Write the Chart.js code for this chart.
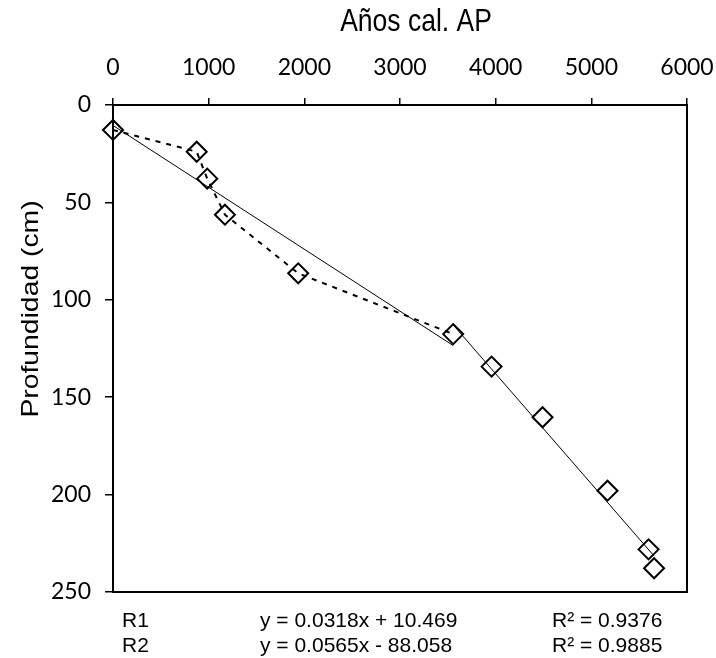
<!DOCTYPE html>
<html>
<head>
<meta charset="utf-8">
<script src="https://cdn.jsdelivr.net/npm/chart.js@4.4.1/dist/chart.umd.min.js"></script>
<style>
    html, body { margin: 0; padding: 0; background: #fff; }
    #wrap { width: 716px; height: 658px; position: relative; }
</style>
</head>
<body>
<div id="wrap"><canvas id="chart"></canvas></div>
<script>
// Edad calibrada (años cal. AP) y profundidad (cm) de cada muestra
const ages   = [0, 875, 985, 1170, 1936, 3556, 3957, 4490, 5169, 5598, 5656];
const depths = [12.8, 24, 37.8, 56.3, 86.4, 117.6, 134.3, 160.3, 198, 228.1, 237.8];

// tramo superior unido con línea punteada (primeras 6 muestras)
const upperCount = 6;

// extremos de las rectas de regresión
const r1Ages   = [0, 3556];
const r1Depths = [10.5, 123.5];
const r2Ages   = [3556, 5656];
const r2Depths = [112.9, 231.5];

// ejes
const xTicks = [0, 1000, 2000, 3000, 4000, 5000, 6000];
const yTicks = [0, 50, 100, 150, 200, 250];
const xTitle = 'Años cal. AP';
const yTitle = 'Profundidad (cm)';

// texto de las regresiones bajo el gráfico
const regNames     = ['R1', 'R2'];
const regEquations = ['y = 0.0318x + 10.469', 'y = 0.0565x - 88.058'];
const regR2        = ['R² = 0.9376', 'R² = 0.9885'];

const toPoints = (xs, ys) => xs.map((x, i) => ({ x: x, y: ys[i] }));

const tickFont = { family: 'Lato', size: 23 };
const textFont = '"Liberation Sans", Arial, sans-serif';

// marco del área de trazado + títulos y ecuaciones
const framePlugin = {
    id: 'frame',
    afterDraw(chart) {
        const { ctx, chartArea: a } = chart;
        ctx.save();
        ctx.strokeStyle = '#000';
        ctx.lineWidth = 2;
        ctx.strokeRect(a.left, a.top, a.right - a.left, a.bottom - a.top);

        ctx.fillStyle = '#000';
        // título eje x
        ctx.save();
        ctx.translate(416, 31);
        ctx.scale(1, 1.15);
        ctx.font = '26.5px ' + textFont;
        ctx.textAlign = 'center';
        ctx.textBaseline = 'alphabetic';
        ctx.fillText(xTitle, 0, 0);
        ctx.restore();

        // título eje y
        ctx.save();
        ctx.translate(37.5, 309);
        ctx.rotate(-Math.PI / 2);
        ctx.scale(1.18, 1);
        ctx.font = '24px ' + textFont;
        ctx.textAlign = 'center';
        ctx.textBaseline = 'alphabetic';
        ctx.fillText(yTitle, 0, 0);
        ctx.restore();

        // ecuaciones
        ctx.font = '21px ' + textFont;
        ctx.textAlign = 'left';
        ctx.textBaseline = 'alphabetic';
        const rows = [627, 652];
        regNames.forEach((name, i) => {
            ctx.fillText(name, 122, rows[i]);
            ctx.fillText(regEquations[i], 260, rows[i]);
            ctx.fillText(regR2[i], 552, rows[i]);
        });
        ctx.restore();
    }
};

const ctx = document.getElementById('chart').getContext('2d');
new Chart(ctx, {
    type: 'scatter',
    data: {
        datasets: [
            {
                data: toPoints(ages.slice(0, upperCount), depths.slice(0, upperCount)),
                showLine: true,
                borderColor: '#000',
                borderWidth: 2,
                borderDash: [5, 6],
                pointRadius: 0,
                clip: false
            },
            {
                data: toPoints(r1Ages, r1Depths),
                showLine: true,
                borderColor: '#000',
                borderWidth: 1,
                pointRadius: 0,
                clip: false
            },
            {
                data: toPoints(r2Ages, r2Depths),
                showLine: true,
                borderColor: '#000',
                borderWidth: 1,
                pointRadius: 0,
                clip: false
            },
            {
                data: toPoints(ages, depths),
                showLine: false,
                pointStyle: 'rectRot',
                pointRadius: 10,
                pointBorderWidth: 2,
                pointBorderColor: '#000',
                pointBackgroundColor: 'rgba(0,0,0,0)',
                clip: false
            }
        ]
    },
    options: {
        responsive: true,
        maintainAspectRatio: false,
        animation: false,
        layout: { padding: { left: 0, top: 0, right: 29, bottom: 66 } },
        plugins: {
            legend: { display: false },
            tooltip: { enabled: false }
        },
        scales: {
            x: {
                type: 'linear',
                position: 'top',
                min: xTicks[0],
                max: xTicks[xTicks.length - 1],
                afterBuildTicks: s => { s.ticks = xTicks.map(v => ({ value: v })); },
                afterFit: s => { s.height = 105; s.paddingLeft = 0; s.paddingRight = 0; },
                ticks: { color: '#000', font: tickFont, padding: 17, maxRotation: 0, callback: v => String(v) },
                grid: { drawOnChartArea: false, drawTicks: true, tickLength: 7, color: '#000', lineWidth: 1.5 },
                border: { color: '#000', width: 2 }
            },
            y: {
                type: 'linear',
                reverse: true,
                min: yTicks[0],
                max: yTicks[yTicks.length - 1],
                afterBuildTicks: s => { s.ticks = yTicks.map(v => ({ value: v })); },
                afterFit: s => { s.width = 113; s.paddingTop = 0; s.paddingBottom = 0; },
                ticks: { color: '#000', font: tickFont, padding: 14, callback: v => String(v) },
                grid: { drawOnChartArea: false, drawTicks: true, tickLength: 8, color: '#000', lineWidth: 1.5 },
                border: { color: '#000', width: 2 }
            }
        }
    },
    plugins: [framePlugin]
});
</script>
</body>
</html>
